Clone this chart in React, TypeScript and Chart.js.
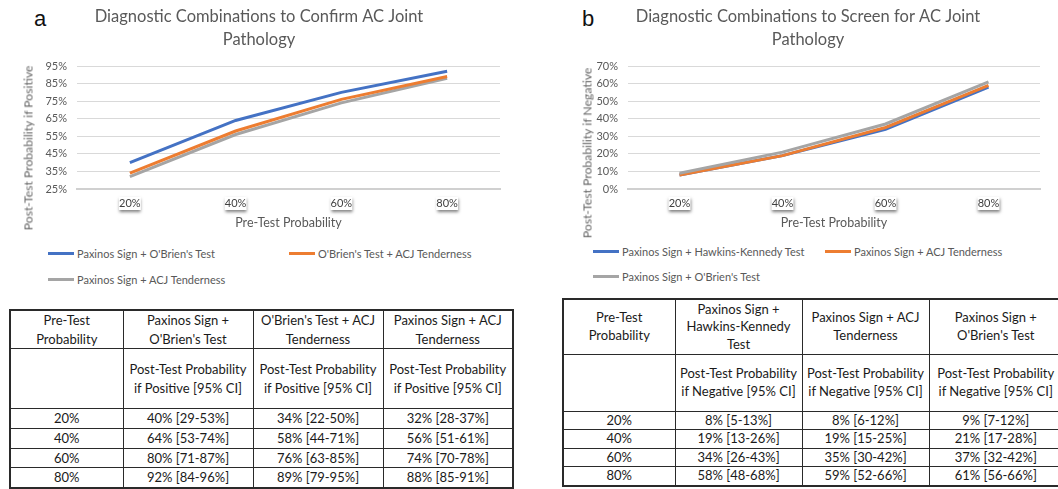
import React, { useEffect, useRef } from "react";
import { Chart, registerables } from "chart.js";

Chart.register(...registerables);

const FONT = "Lato, 'Noto Sans', sans-serif";

// ---------- data ----------
const categories = ["20%", "40%", "60%", "80%"];

// Panel a: post-test probability if positive
const confirmPaxOb = [40, 64, 80, 92];
const confirmObAcj = [34, 58, 76, 89];
const confirmPaxAcj = [32, 56, 74, 88];
const confirmPaxObCI = ["29-53%", "53-74%", "71-87%", "84-96%"];
const confirmObAcjCI = ["22-50%", "44-71%", "63-85%", "79-95%"];
const confirmPaxAcjCI = ["28-37%", "51-61%", "70-78%", "85-91%"];

// Panel b: post-test probability if negative
const screenPaxHk = [8, 19, 34, 58];
const screenPaxAcj = [8, 19, 35, 59];
const screenPaxOb = [9, 21, 37, 61];
const screenPaxHkCI = ["5-13%", "13-26%", "26-43%", "48-68%"];
const screenPaxAcjCI = ["6-12%", "15-25%", "30-42%", "52-66%"];
const screenPaxObCI = ["7-12%", "17-28%", "32-42%", "56-66%"];

const BLUE = "#4472C4";
const ORANGE = "#ED7D31";
const GRAY = "#A5A5A5";

const tickBoxPlugin = {
  id: "tickBox",
  beforeDraw(chart: any) {
    const xs = chart.scales.x;
    const ctx = chart.ctx;
    ctx.save();
    ctx.fillStyle = "#ffffff";
    ctx.shadowColor = "rgba(0,0,0,0.5)";
    ctx.shadowBlur = 3;
    ctx.shadowOffsetY = 2;
    ctx.shadowOffsetX = 0.5;
    xs.ticks.forEach((_: any, i: number) => {
      const px = xs.getPixelForTick(i);
      ctx.fillRect(px - 11, chart.chartArea.bottom + 8, 22, 13);
    });
    ctx.restore();
  },
};

type Series = { label: string; data: number[]; color: string };

function LineChart(props: {
  left: number;
  width: number;
  height: number;
  title: string[];
  yMin: number;
  yMax: number;
  series: Series[];
  padL: number;
  padR: number;
  yW: number;
}) {
  const ref = useRef<HTMLCanvasElement>(null);
  useEffect(() => {
    const { title, yMin, yMax, series, padL, padR, yW, height } = props;
    const chart = new Chart(ref.current as HTMLCanvasElement, {
      type: "line",
      data: {
        labels: categories,
        datasets: series.map((s) => ({
          label: s.label,
          data: s.data,
          borderColor: s.color,
          backgroundColor: s.color,
          borderWidth: 3,
          pointRadius: 0,
          tension: 0,
          fill: false,
        })),
      },
      options: {
        animation: false,
        responsive: false,
        maintainAspectRatio: false,
        layout: { padding: { left: padL, right: padR, top: 0, bottom: 0 } },
        plugins: {
          legend: { display: false },
          tooltip: { enabled: false },
          title: {
            display: true,
            text: title,
            color: "#595959",
            font: { family: FONT, size: 16.5, weight: "normal", lineHeight: 1.37 },
            padding: { top: 5.5, bottom: 15.3 },
          },
        },
        scales: {
          x: {
            offset: true,
            grid: { display: false, drawTicks: false, offset: true },
            border: { display: true, color: "#d0d0d0", width: 2 },
            ticks: {
              color: "#404040",
              font: { family: FONT, size: 11 },
              padding: 8,
            },
            title: {
              display: true,
              text: "Pre-Test Probability",
              color: "#595959",
              font: { family: FONT, size: 12.5, lineHeight: 1.2 },
              padding: { top: 0, bottom: 10 },
            },
            afterFit: (s: any) => {
              s.height = height - 189;
            },
          },
          y: {
            min: yMin,
            max: yMax,
            ticks: {
              stepSize: 10,
              color: "#595959",
              font: { family: FONT, size: 11 },
              padding: 10,
              callback: (v: any) => v + "%",
            },
            grid: { color: "#d9d9d9", drawTicks: false },
            border: { display: false },
            afterFit: (s: any) => {
              s.width = yW;
            },
          },
        },
      },
      plugins: [tickBoxPlugin],
    });
    return () => chart.destroy();
  }, []);
  return (
    <canvas
      ref={ref}
      width={props.width}
      height={props.height}
      style={{ position: "absolute", left: props.left, top: 0, width: props.width, height: props.height }}
    />
  );
}

function Legend(props: { items: { label: string; color: string; x: number; y: number }[] }) {
  return (
    <>
      {props.items.map((it) => (
        <div
          key={it.label}
          style={{
            position: "absolute",
            left: it.x,
            top: it.y - 8,
            height: 16,
            display: "flex",
            alignItems: "center",
            whiteSpace: "nowrap",
            fontFamily: FONT,
            fontSize: 11,
            color: "#595959",
          }}
        >
          <span style={{ display: "inline-block", width: 26, height: 3, background: it.color, marginRight: 3 }} />
          <span>{it.label}</span>
        </div>
      ))}
    </>
  );
}

function YTitle(props: { text: string; cx: number; cy: number }) {
  return (
    <div
      style={{
        position: "absolute",
        left: props.cx,
        top: props.cy,
        transform: "translate(-50%, -50%) rotate(-90deg)",
        whiteSpace: "nowrap",
        fontFamily: FONT,
        fontSize: 12.2,
        color: "#666666",
      }}
    >
      {props.text}
    </div>
  );
}

function DataTable(props: {
  left: number;
  top: number;
  cols: number[];
  headers: string[][];
  subLabel: string[];
  values: number[][];
  cis: string[][];
  headH: number;
  subH: number;
  rowH: number[];
  lineH: number;
}) {
  const { left, top, cols, headers, subLabel, values, cis, headH, subH, rowH, lineH } = props;
  const cell: React.CSSProperties = {
    border: "1px solid #2a2a2a",
    padding: 0,
    textAlign: "center",
    verticalAlign: "middle",
    overflow: "hidden",
  };
  return (
    <table
      style={{
        position: "absolute",
        left,
        top,
        borderCollapse: "collapse",
        tableLayout: "fixed",
        width: cols.reduce((a, b) => a + b, 0),
        border: "2px solid #2a2a2a",
        fontFamily: FONT,
        fontSize: 13,
        lineHeight: lineH + "px",
        color: "#1a1a1a",
      }}
    >
      <colgroup>
        {cols.map((w, i) => (
          <col key={i} style={{ width: w }} />
        ))}
      </colgroup>
      <tbody>
        <tr style={{ height: headH }}>
          {headers.map((h, i) => (
            <td key={i} style={cell}>
              {h.map((ln, j) => (
                <div key={j}>{ln}</div>
              ))}
            </td>
          ))}
        </tr>
        <tr style={{ height: subH }}>
          <td style={cell}></td>
          {headers.slice(1).map((_, i) => (
            <td key={i} style={cell}>
              {subLabel.map((ln, j) => (
                <div key={j}>{ln}</div>
              ))}
            </td>
          ))}
        </tr>
        {categories.map((c, r) => (
          <tr key={c} style={{ height: rowH[r] }}>
            <td style={cell}>{c}</td>
            {values.map((v, i) => (
              <td key={i} style={cell}>
                {v[r]}% [{cis[i][r]}]
              </td>
            ))}
          </tr>
        ))}
      </tbody>
    </table>
  );
}

export default function App() {
  return (
    <div
      style={{
        position: "absolute",
        left: 0,
        top: 0,
        width: 1058,
        height: 489,
        overflow: "hidden",
        background: "#ffffff",
      }}
    >
      <div style={{ position: "absolute", left: 34, top: 6, fontFamily: "'Liberation Sans', Arial, sans-serif", fontSize: 22, color: "#111" }}>a</div>
      <div style={{ position: "absolute", left: 582, top: 6, fontFamily: "'Liberation Sans', Arial, sans-serif", fontSize: 22, color: "#111" }}>b</div>

      <LineChart
        left={0}
        width={520}
        height={240}
        title={["Diagnostic Combinations to Confirm AC Joint", "Pathology"]}
        yMin={25}
        yMax={95}
        padL={18}
        padR={20}
        yW={59}
        series={[
          { label: "Paxinos Sign + O'Brien's Test", data: confirmPaxOb, color: BLUE },
          { label: "O'Brien's Test + ACJ Tenderness", data: confirmObAcj, color: ORANGE },
          { label: "Paxinos Sign + ACJ Tenderness", data: confirmPaxAcj, color: GRAY },
        ]}
      />
      <YTitle text="Post-Test Probability if Positive" cx={28} cy={148} />
      <Legend
        items={[
          { label: "Paxinos Sign + O'Brien's Test", color: BLUE, x: 48, y: 253 },
          { label: "O'Brien's Test + ACJ Tenderness", color: ORANGE, x: 289, y: 253 },
          { label: "Paxinos Sign + ACJ Tenderness", color: GRAY, x: 48, y: 279 },
        ]}
      />

      <LineChart
        left={548}
        width={510}
        height={240}
        title={["Diagnostic Combinations to Screen for AC Joint", "Pathology"]}
        yMin={0}
        yMax={70}
        padL={28}
        padR={18}
        yW={52}
        series={[
          { label: "Paxinos Sign + O'Brien's Test", data: screenPaxOb, color: GRAY },
          { label: "Paxinos Sign + ACJ Tenderness", data: screenPaxAcj, color: ORANGE },
          { label: "Paxinos Sign + Hawkins-Kennedy Test", data: screenPaxHk, color: BLUE },
        ]}
      />
      <YTitle text="Post-Test Probability if Negative" cx={587} cy={153} />
      <Legend
        items={[
          { label: "Paxinos Sign + Hawkins-Kennedy Test", color: BLUE, x: 593, y: 251 },
          { label: "Paxinos Sign + ACJ Tenderness", color: ORANGE, x: 825, y: 251 },
          { label: "Paxinos Sign + O'Brien's Test", color: GRAY, x: 593, y: 276 },
        ]}
      />

      <DataTable
        left={9}
        top={309}
        cols={[113, 130, 130, 130]}
        headers={[
          ["Pre-Test", "Probability"],
          ["Paxinos Sign +", "O'Brien's Test"],
          ["O'Brien's Test + ACJ", "Tenderness"],
          ["Paxinos Sign + ACJ", "Tenderness"],
        ]}
        subLabel={["Post-Test Probability", "if Positive [95% CI]"]}
        values={[confirmPaxOb, confirmObAcj, confirmPaxAcj]}
        cis={[confirmPaxObCI, confirmObAcjCI, confirmPaxAcjCI]}
        headH={38}
        subH={60}
        rowH={[20, 19, 19, 20]}
        lineH={18.5}
      />
      <DataTable
        left={562}
        top={298}
        cols={[112, 127, 127, 134]}
        headers={[
          ["Pre-Test", "Probability"],
          ["Paxinos Sign +", "Hawkins-Kennedy", "Test"],
          ["Paxinos Sign + ACJ", "Tenderness"],
          ["Paxinos Sign +", "O'Brien's Test"],
        ]}
        subLabel={["Post-Test Probability", "if Negative [95% CI]"]}
        values={[screenPaxHk, screenPaxAcj, screenPaxOb]}
        cis={[screenPaxHkCI, screenPaxAcjCI, screenPaxObCI]}
        headH={55}
        subH={57}
        rowH={[18.5, 18.5, 18.5, 18.5]}
        lineH={17.5}
      />
    </div>
  );
}
